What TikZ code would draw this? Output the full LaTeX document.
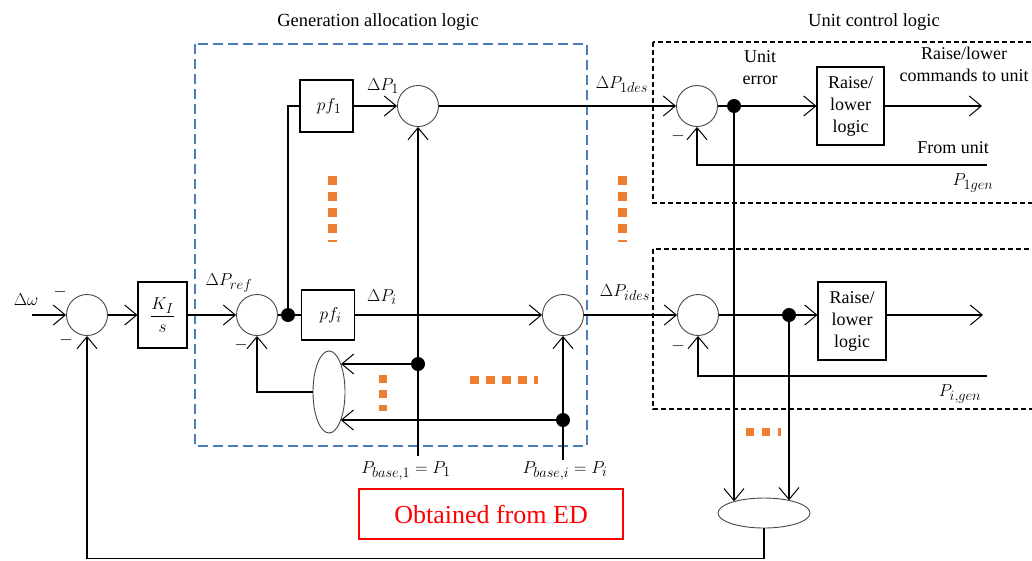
\documentclass[tikz,border=0pt]{standalone}
\usepackage{amsmath}
\usepackage{fontspec}
\setmainfont{Liberation Serif}
\DeclareMathSizes{17}{17}{13}{10}
\DeclareMathSizes{18}{18}{13.5}{10}
\DeclareMathSizes{19}{19}{15}{11}
\usetikzlibrary{arrows.meta,shapes.geometric,calc}
\definecolor{dblue}{RGB}{74,126,187}
\definecolor{org}{RGB}{237,125,49}
\definecolor{sumgray}{RGB}{70,70,70}
\begin{document}
\begin{tikzpicture}[x=1pt,y=-1pt,
  every node/.style={font=\fontsize{17}{21}\selectfont},
  txt/.style={font=\fontsize{18}{22}\selectfont},
  mth/.style={font=\fontsize{19}{22}\selectfont},
  ttl/.style={font=\fontsize{18.5}{22}\selectfont},
  sumn/.style={circle,draw=sumgray,line width=0.9pt,minimum size=41pt,inner sep=0pt},
  blk/.style={draw,line width=1.1pt,inner sep=0pt,align=center},
  dotn/.style={circle,fill=black,inner sep=0pt,minimum size=14pt},
  ln/.style={line width=1.2pt},
  arr/.style={line width=1.2pt,-{Straight Barb[length=12pt,width=20pt,line width=1pt]}},
  bluebox/.style={draw=dblue,line width=1.3pt,dash pattern=on 10pt off 5pt},
  unitbox/.style={draw=black,line width=1.2pt,dash pattern=on 5pt off 3pt},
  orng/.style={draw=org,line width=9pt,dash pattern=on 9pt off 7pt}]
\path[use as bounding box,clip] (0,0) rectangle (1032,560);

% frames
\draw[bluebox] (195,44) rectangle (587,446);
\draw[unitbox] (653,42) rectangle (1045,203);
\draw[unitbox] (653,249) rectangle (1045,409);
\node[ttl] (t1) at (378,22) {Generation allocation logic};
\node[ttl] (t2) at (874,22) {Unit control logic};

% nodes
\coordinate (In) at (32,315);
\node[sumn] (S1) at (87,315) {};
\node[blk,mth,minimum width=49pt,minimum height=66pt] (K) at (162.5,315) {$\dfrac{K_I}{s}$};
\node[sumn] (S2) at (257,315) {};
\node[dotn] (D2) at (288,315) {};
\node[blk,mth,minimum width=53pt,minimum height=52pt] (pf1) at (326.5,106) {\;$pf_1$};
\node[blk,mth,minimum width=53pt,minimum height=50pt] (pfi) at (328,315) {\;$pf_i$};
\node[sumn] (SP1) at (418,106) {};
\node[sumn] (SPi) at (563,315) {};
\node[sumn] (U1) at (697,106) {};
\node[dotn] (DU1) at (734,106) {};
\node[blk,txt,minimum width=67pt,minimum height=78pt] (RL1) at (850.5,106) {Raise/\\lower\\logic};
\coordinate (O1) at (982,106);
\coordinate (F1) at (987,165);
\node[sumn] (Ui) at (698,315) {};
\node[dotn] (DUi) at (789,315) {};
\node[blk,txt,minimum width=68pt,minimum height=78pt] (RL2) at (852,321) {Raise/\\lower\\logic};
\coordinate (O2) at (983,315);
\coordinate (F2) at (987,376);
\node[dotn] (DA) at (418,364) {};
\node[dotn] (DB) at (563,420) {};
\coordinate (B1) at (418,456);
\coordinate (Bi) at (563,460);
\node[ellipse,draw=sumgray,line width=0.9pt,minimum width=32pt,minimum height=82pt,inner sep=0pt] (E1) at (329,392) {};
\node[ellipse,draw=sumgray,line width=0.9pt,minimum width=92pt,minimum height=30pt,inner sep=0pt] (E2) at (764,513) {};

% connectors
\draw[arr] (In) -- (S1.west);
\draw[arr] (S1.east) -- (K.west);
\draw[arr] (K.east) -- (S2.west);
\draw[ln] (S2.east) -- (pfi.west);
\draw[ln] (D2.center) |- (pf1.west);
\draw[arr] (pf1.east) -- (SP1.west);
\draw[arr] (pfi.east) -- (SPi.west);
\draw[arr] (SP1.east) -- (U1.west);
\draw[arr] (SPi.east) -- (Ui.west);
\draw[ln] (U1.east) -- (DU1.center);
\draw[arr] (DU1.center) -- (RL1.west);
\draw[arr] (RL1.east) -- (O1);
\draw[arr] (F1) -| (U1.south);
\draw[ln] (Ui.east) -- (DUi.center);
\draw[arr] (DUi.center) -- (RL2.west |- DUi);
\draw[arr] (RL2.east |- DUi) -- (O2);
\draw[arr] (F2) -| (Ui.south);
\draw[arr] (B1) -- (SP1.south);
\draw[arr] (Bi) -- (SPi.south);
\draw[arr] (DA.center) -- (DA.center -| E1.67.3);
\draw[arr] (DB.center) -- (DB.center -| E1.292.7);
\draw[arr] (E1.west) -| (S2.south);
\draw[arr] (DU1.center) -- (DU1.center |- E2.159.2);
\draw[arr] (DUi.center) -- (DUi.center |- E2.26.7);
\draw[arr] (E2.south) -- ++(0,30) -| (S1.south);

% orange ellipsis marks
\draw[orng] (332,176) -- (332,242);
\draw[orng] (622,176) -- (622,242);
\draw[orng,line width=8pt,dash pattern=on 8pt off 7pt] (383,375) -- (383,411);
\draw[orng,line width=8pt,dash pattern=on 9pt off 7pt] (470,380) -- (538,380);
\draw[orng,line width=8pt,dash pattern=on 8pt off 8pt] (746,432) -- (781,432);

% labels
\node[mth] (lw) at (26,300) {$\Delta\omega$};
\node (m1) at (60,292) {$-$};
\node (m2) at (66,340) {$-$};
\node (m3) at (241,345) {$-$};
\node (m4) at (678,136) {$-$};
\node (m5) at (678,346) {$-$};
\node[mth] (lref) at (229,283) {$\Delta P_{ref}$};
\node[mth] (lp1) at (383,86) {$\Delta P_1$};
\node[mth] (lpi) at (382,297) {$\Delta P_i$};
\node[mth] (l1des) at (622,85) {$\Delta P_{1des}$};
\node[mth] (lides) at (625,293) {$\Delta P_{ides}$};
\node[txt,align=center] (ue) at (760,68) {Unit\\error};
\node[txt,align=center] (rc) at (964,64) {Raise/lower\\commands to unit};
\node[txt] (fu) at (953,148) {From unit};
\node[mth] (p1g) at (973,183) {$P_{1gen}$};
\node[mth] (pig) at (960,394) {$P_{i,gen}$};
\node[mth] (pb1) at (406,471) {$P_{base,1}=P_1$};
\node[mth] (pbi) at (565,471) {$P_{base,i}=P_i$};
\node[draw=red,text=red,line width=1.3pt,minimum width=264pt,minimum height=50pt,inner sep=0pt,font=\fontsize{26}{30}\selectfont] (ED) at (491,514) {Obtained from ED};
\end{tikzpicture}
\end{document}
